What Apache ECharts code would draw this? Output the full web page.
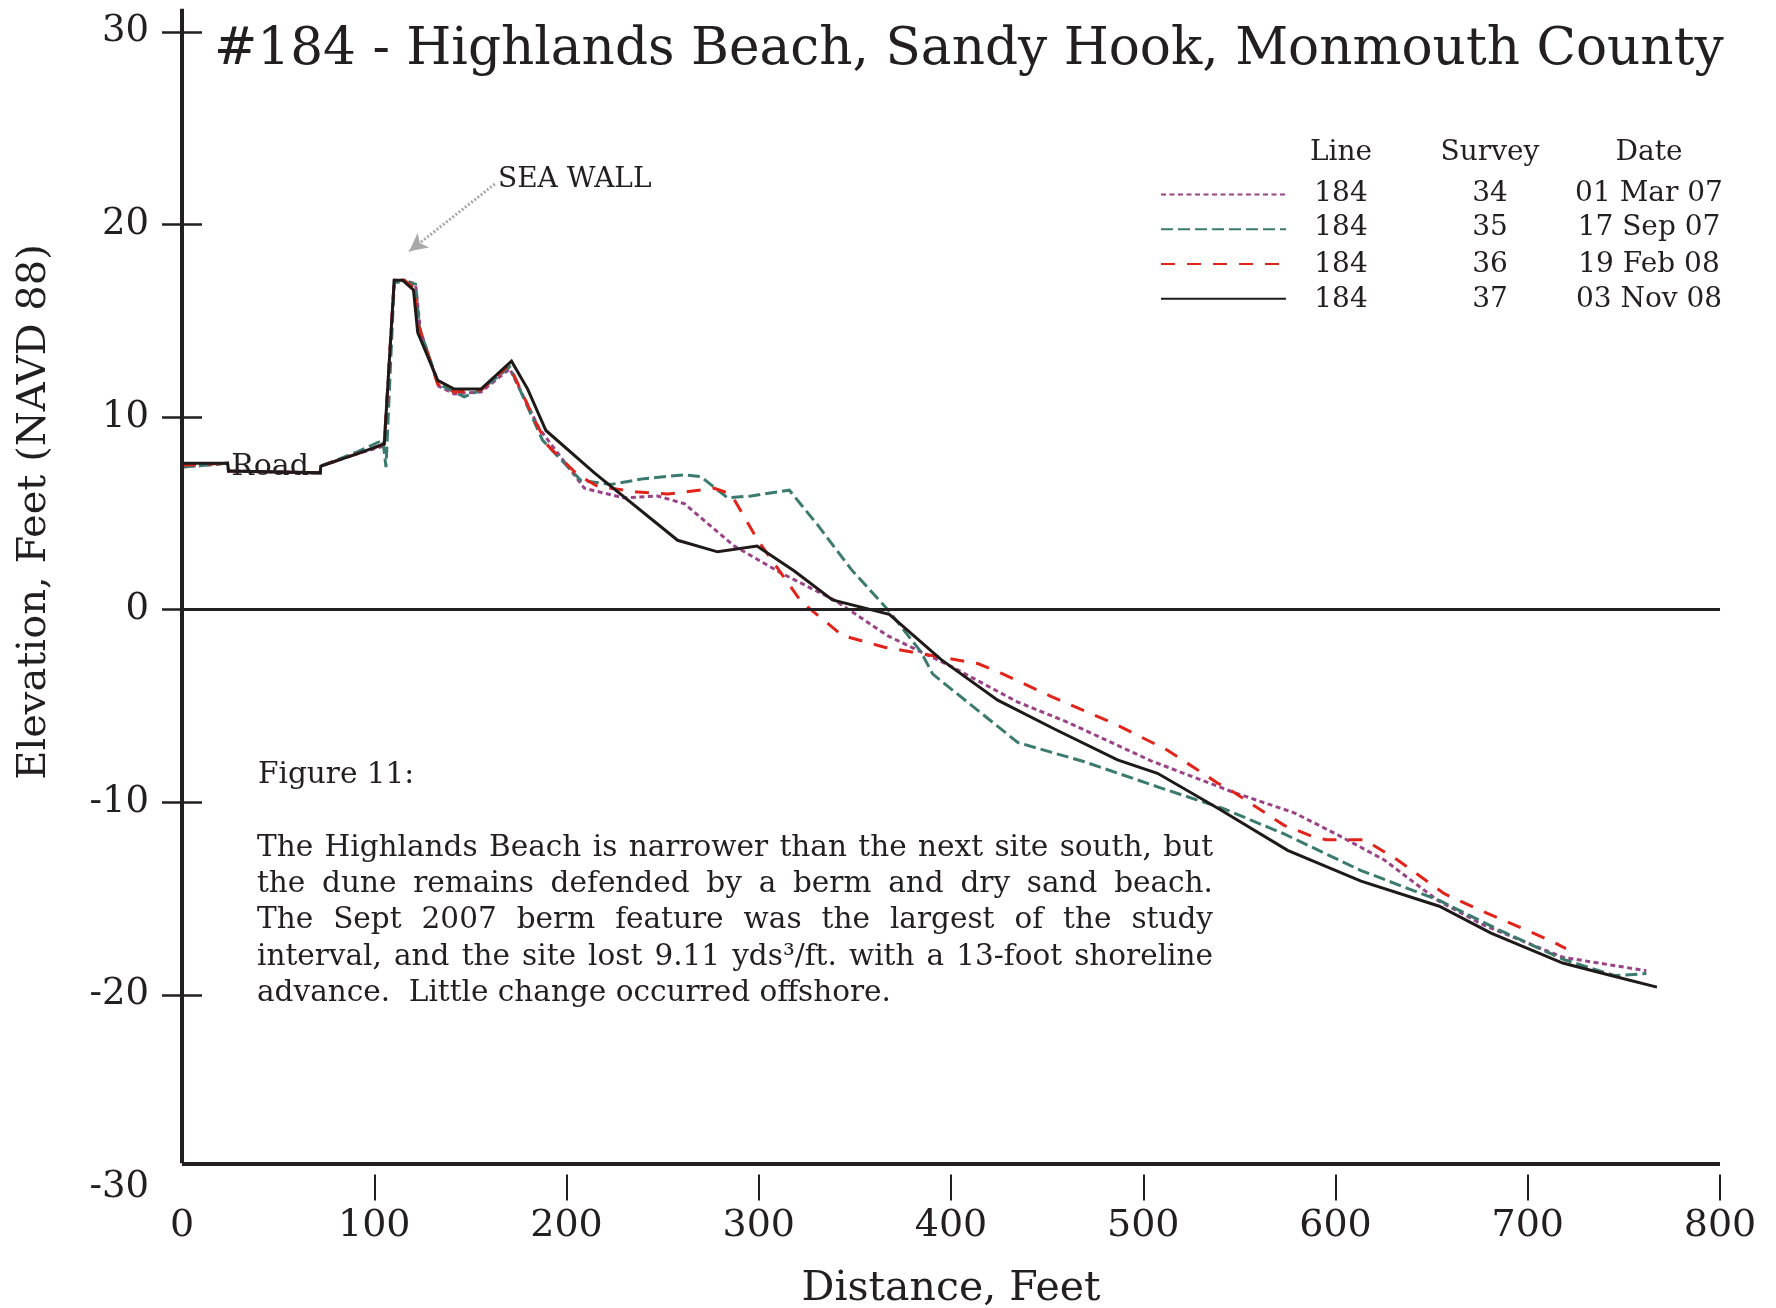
<!DOCTYPE html>
<html><head><meta charset="utf-8">
<script src="https://cdn.jsdelivr.net/npm/echarts@6/dist/echarts.min.js"></script>
<style>html,body{margin:0;padding:0;background:#fff}#c{width:1776px;height:1308px}</style>
</head><body><div id="c"></div>
<script>
// ---- data ----
const xTickValues = [100, 200, 300, 400, 500, 600, 700, 800];
const yLabelValues = [-30, -20, -10, 0, 10, 20, 30];
const yTickValues = [-20, -10, 0, 10, 20, 30];

const s34Dist = [0,23.7,24.2,71.9,72.2,91.4,105.2,110.4,116,121.5,124,133.5,141.6,155.5,170.5,185.8,209.3,229.9,247.3,261.3,287.3,311.6,339.3,366.9,400,434.7,460.7,504,547.3,578.5,601.2,625.4,653.2,677.4,718.2,761.7];
const s34Elev = [7.4,7.6,7.2,7.1,7.45,8.1,8.5,17.1,17.1,16.9,14.5,11.6,11.2,11.3,12.5,9.4,6.3,5.8,5.9,5.5,3.3,1.9,0.5,-1.35,-2.95,-4.8,-5.85,-7.85,-9.5,-10.55,-11.7,-13.0,-15.1,-16.4,-18.05,-18.75];

const s35Dist = [0,23.7,24.2,71.9,72.2,91.4,104.5,106.1,110.4,117,121.5,123.5,133.5,146.8,155.5,170.5,187.5,207.5,223.1,240.4,261.3,269.9,283.8,296.1,315.9,330.6,348,367.1,384.4,390.5,434.7,452,469.4,507.4,542.1,573.3,613.3,654,684.4,718.2,745.1,761.7];
const s35Elev = [7.4,7.6,7.2,7.1,7.45,8.2,8.8,7.4,17.0,17.0,16.9,14.6,11.7,11.05,11.4,12.6,8.8,6.7,6.5,6.8,7.0,6.9,5.8,5.9,6.2,4.4,2.1,0.0,-2.2,-3.35,-6.9,-7.4,-7.9,-9.2,-10.35,-11.65,-13.55,-15.1,-16.6,-18.15,-19.0,-18.9];

const s36Dist = [0,23.7,24.2,71.9,72.2,91.4,105.2,110.4,115.5,120.8,122.6,133,141.6,155.5,170.2,184.1,190.4,205.8,216.2,237,252.6,276.9,285.6,299.5,322.2,343.6,365.4,396.5,413.9,426,452,486.6,512.6,538.6,547.3,573.3,587.3,595.1,615,632.3,656.6,674,712.1,719.9];
const s36Elev = [7.5,7.6,7.2,7.1,7.45,8.1,8.6,17.1,17.1,16.7,14.9,11.7,11.3,11.4,12.7,9.7,8.5,7.0,6.4,6.1,6.0,6.3,6.0,3.6,0.4,-1.35,-1.95,-2.5,-2.8,-3.3,-4.5,-6.0,-7.3,-9.0,-9.5,-11.2,-11.75,-11.95,-11.95,-13.0,-14.75,-15.55,-17.2,-17.6];

const s37Dist = [0,23.7,24.2,71.9,72.2,91.4,105.2,110.4,114.8,120.4,122.6,133,141.6,155.5,171.4,179.8,189.3,214.5,257.8,278.6,299.1,318.5,338.3,367.9,394.9,424.3,453.8,486.6,507.4,538.6,575.1,613.3,654,680.9,718.2,743.3,767.2];
const s37Elev = [7.6,7.6,7.2,7.1,7.45,8.1,8.6,17.1,17.1,16.6,14.4,11.9,11.45,11.45,12.9,11.45,9.3,7.1,3.6,3.0,3.3,2.0,0.5,-0.25,-2.6,-4.7,-6.2,-7.8,-8.5,-10.3,-12.5,-14.1,-15.4,-16.8,-18.35,-19.0,-19.6];

const legendLine = ['184', '184', '184', '184'];
const legendSurvey = ['34', '35', '36', '37'];
const legendDate = ['01 Mar 07', '17 Sep 07', '19 Feb 08', '03 Nov 08'];

const titleText = '#184 - Highlands Beach, Sandy Hook, Monmouth County';
const figureLabel = 'Figure 11:';
const figureLines = [
  'The Highlands Beach is narrower than the next site south, but',
  'the dune remains defended by a berm and dry sand beach.',
  'The Sept 2007 berm feature was the largest of the study',
  'interval, and the site lost 9.11 yds\u00B3/ft. with a 13-foot shoreline',
  'advance.  Little change occurred offshore.'
];
const axisBase = -28.75;
const axisTop = 31.2;

// ---- styles ----
const FONT = 'DejaVu Serif';
const INK = '#231f20';
const seriesStyles = [
  {color: '#9a4387', type: [5, 3.5], width: 3},
  {color: '#3b7b6f', type: [12, 5], width: 3},
  {color: '#e2231a', type: [14, 12], width: 3},
  {color: '#1f1a17', type: 'solid', width: 3}
];
const dists = [s34Dist, s35Dist, s36Dist, s37Dist];
const elevs = [s34Elev, s35Elev, s36Elev, s37Elev];

const series = legendSurvey.map((sv, i) => ({
  name: 'Survey ' + sv,
  type: 'line',
  data: dists[i].map((d, j) => [d, elevs[i][j]]),
  symbol: 'none',
  z: 3 + (i === 3 ? 1 : 0),
  lineStyle: {color: seriesStyles[i].color, type: seriesStyles[i].type, width: seriesStyles[i].width, cap: 'butt', join: 'miter'},
  itemStyle: {color: seriesStyles[i].color},
  animation: false
}));

// helper series: frame lines, zero line, annotations
series.push({
  name: 'frame',
  type: 'line',
  data: [],
  clip: false,
  silent: true,
  animation: false,
  z: 5,
  markLine: {
    silent: true,
    animation: false,
    symbol: 'none',
    label: {show: false},
    data: [
      [{coord: [0, axisBase], lineStyle: {color: INK, width: 4, type: 'solid'}}, {coord: [0, axisTop]}],
      [{coord: [0, axisBase], lineStyle: {color: INK, width: 4, type: 'solid'}}, {coord: [800, axisBase]}],
      [{coord: [0, 0], lineStyle: {color: INK, width: 3, type: 'solid'}}, {coord: [800, 0]}],
      [{coord: [162.7, 22.1], symbol: 'none', lineStyle: {color: '#a8a8a8', width: 3, type: [2, 2]}},
       {coord: [118.2, 18.6], symbol: 'arrow', symbolSize: [14, 18]}]
    ]
  },
  markPoint: {
    silent: true,
    animation: false,
    symbol: 'circle',
    symbolSize: 0,
    data: [
      {coord: [45.8, 7.38], label: {show: true, position: 'inside', formatter: 'Road', fontFamily: FONT, fontSize: 30, color: INK}},
      {coord: [204.3, 22.34], label: {show: true, position: 'inside', formatter: 'SEA WALL', fontFamily: FONT, fontSize: 28, color: INK}}
    ]
  }
});

// graphic texts
const graphics = [];
graphics.push({type: 'text', x: 35, y: 512, rotation: Math.PI / 2,
  style: {text: 'Elevation, Feet (NAVD 88)', font: '40px "DejaVu Serif"', fill: INK, align: 'center', verticalAlign: 'middle'}});
const headers = ['Line', 'Survey', 'Date'];
const colX = [1341, 1490, 1649];
headers.forEach((h, k) => graphics.push({type: 'text', x: colX[k], y: 152.5,
  style: {text: h, font: '28px "DejaVu Serif"', fill: INK, align: 'center', verticalAlign: 'middle'}}));
const rowY = [194, 227.5, 265, 299.5];
[legendLine, legendSurvey, legendDate].forEach((col, k) => col.forEach((t, r) => graphics.push({
  type: 'text', x: colX[k], y: rowY[r],
  style: {text: t, font: '28px "DejaVu Serif"', fill: INK, align: 'center', verticalAlign: 'middle'}})));

const PFONT = '29.5px "DejaVu Serif"';
graphics.push({type: 'text', x: 258, y: 775,
  style: {text: figureLabel, font: PFONT, fill: INK, align: 'left', verticalAlign: 'middle'}});
// justified paragraph (last line left aligned)
const paraLeft = 257, paraRight = 1213;
const lineY = [848.5, 884.5, 920.5, 957.5, 993.5];
const ctx = document.createElement('canvas').getContext('2d');
ctx.font = PFONT;
figureLines.forEach((t, r) => {
  if (r === figureLines.length - 1) {
    graphics.push({type: 'text', x: paraLeft, y: lineY[r],
      style: {text: t, font: PFONT, fill: INK, align: 'left', verticalAlign: 'middle'}});
    return;
  }
  const words = t.split(' ');
  const widths = words.map(w => ctx.measureText(w).width);
  const total = widths.reduce((a, b) => a + b, 0);
  const gap = (paraRight - paraLeft - total) / (words.length - 1);
  let x = paraLeft;
  words.forEach((w, k) => {
    graphics.push({type: 'text', x: x, y: lineY[r],
      style: {text: w, font: PFONT, fill: INK, align: 'left', verticalAlign: 'middle'}});
    x += widths[k] + gap;
  });
});

const chart = echarts.init(document.getElementById('c'), null, {renderer: 'canvas'});
chart.setOption({
  backgroundColor: '#ffffff',
  animation: false,
  title: {
    text: titleText, left: 209, top: 19.5,
    textStyle: {fontFamily: FONT, fontSize: 51.7, fontWeight: 'normal', color: INK}
  },
  legend: {
    data: series.slice(0, 4).map(s => s.name),
    orient: 'vertical',
    left: 1160, top: 189,
    padding: 0,
    itemWidth: 125, itemHeight: 14, itemGap: 23.5,
    itemStyle: {opacity: 0},
    formatter: () => '',
    textStyle: {fontSize: 12, lineHeight: 14},
    selectedMode: false
  },
  grid: {left: 182, right: 56, top: 8.7, bottom: 120.6, containLabel: false, outerBoundsMode: 'none'},
  xAxis: {
    type: 'value', min: 0, max: 800, interval: 100,
    offset: -13,
    axisLine: {show: false, onZero: false},
    axisTick: {show: true, length: 26, customValues: xTickValues, lineStyle: {color: INK, width: 2}},
    axisLabel: {margin: 33, fontFamily: FONT, fontSize: 38, color: INK},
    splitLine: {show: false},
    name: 'Distance, Feet', nameLocation: 'middle', nameGap: 94,
    nameTextStyle: {fontFamily: FONT, fontSize: 41, color: INK}
  },
  yAxis: [
    {
      type: 'value', min: -30, max: axisTop, position: 'left', offset: 0,
      axisLine: {show: false, onZero: false},
      axisTick: {show: true, length: 20, customValues: yTickValues, lineStyle: {color: INK, width: 2.5}},
      axisLabel: {customValues: yLabelValues, margin: 33, fontFamily: FONT, fontSize: 37, color: INK},
      splitLine: {show: false}
    },
    {
      type: 'value', min: -30, max: axisTop, position: 'left', offset: 0,
      axisLine: {show: false, onZero: false},
      axisTick: {show: true, inside: true, length: 20, customValues: yTickValues, lineStyle: {color: INK, width: 2.5}},
      axisLabel: {show: false},
      splitLine: {show: false}
    }
  ],
  graphic: graphics,
  series: series
});
</script>
</body></html>
